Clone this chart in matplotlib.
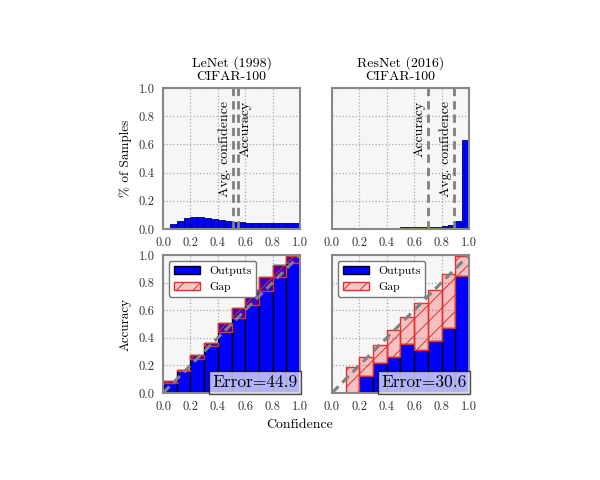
import matplotlib
matplotlib.use("Agg")
import matplotlib.pyplot as plt
import numpy as np

plt.rcParams['font.family'] = ['cmr10', 'DejaVu Serif']
plt.rcParams['axes.formatter.use_mathtext'] = True
plt.rcParams['hatch.linewidth'] = 0.7

# ---- data ----
models = ['LeNet (1998)\nCIFAR-100', 'ResNet (2016)\nCIFAR-100']
errors = [44.9, 30.6]
avg_conf = [0.51, 0.888]
accuracy = [0.545, 0.70]

# % of samples, 20 bins of width 0.05
hist_lenet = [0.003, 0.036, 0.059, 0.075, 0.083, 0.082, 0.075, 0.068, 0.064, 0.057,
              0.052, 0.047, 0.044, 0.042, 0.040, 0.040, 0.041, 0.043, 0.044, 0.045]
hist_resnet = [0.0, 0.0, 0.0, 0.0, 0.0, 0.001, 0.003, 0.005, 0.008, 0.010,
               0.012, 0.013, 0.014, 0.015, 0.016, 0.017, 0.019, 0.030, 0.060, 0.633]

# reliability diagram, 10 bins of width 0.1
acc_lenet = [0.09, 0.17, 0.273, 0.365, 0.505, 0.614, 0.746, 0.843, 0.928, 0.993]
conf_lenet = [0.07, 0.16, 0.244, 0.34, 0.444, 0.54, 0.638, 0.741, 0.843, 0.944]
acc_resnet = [0.0, 0.0, 0.123, 0.22, 0.26, 0.355, 0.31, 0.377, 0.47, 0.85]
conf_resnet = [0.0, 0.19, 0.26, 0.35, 0.456, 0.55, 0.65, 0.746, 0.86, 0.99]

hists = [hist_lenet, hist_resnet]
accs = [acc_lenet, acc_resnet]
confs = [conf_lenet, conf_resnet]
ticks = [0.0, 0.2, 0.4, 0.6, 0.8, 1.0]


def style(ax, show_y):
    ax.set_facecolor('#f6f6f6')
    ax.set_xlim(0, 1)
    ax.set_ylim(0, 1)
    ax.set_xticks(ticks)
    ax.set_yticks(ticks)
    ax.set_xticklabels([f'{t:.1f}' for t in ticks])
    if show_y:
        ax.set_yticklabels([f'{t:.1f}' for t in ticks])
    else:
        ax.set_yticklabels([])
    ax.tick_params(length=0, labelsize=9, colors='#333333', pad=6)
    ax.grid(True, ls=':', color='#aaaaaa', lw=0.9)
    ax.set_axisbelow(True)
    for s in ax.spines.values():
        s.set_color('#888888')
        s.set_linewidth(1.5)


fig = plt.figure(figsize=(6, 4.8), dpi=100)
lefts = [0.2717, 0.5533]
w = 0.2283

for i in range(2):
    # top: confidence histogram
    ax = fig.add_axes([lefts[i], 0.5229, w, 0.2938])
    style(ax, i == 0)
    edges = np.linspace(0, 1, len(hists[i]) + 1)
    ax.bar(edges[:-1], hists[i], width=0.05, align='edge', color='#0000ff',
           edgecolor='#000066', lw=0.6)
    ax.axvline(avg_conf[i], ls='--', color='#808080', lw=2, dashes=(3, 1.8))
    ax.axvline(accuracy[i], ls='--', color='#808080', lw=2, dashes=(3, 1.8))
    ax.text(avg_conf[i] - 0.015, 0.91, 'Avg. confidence', rotation=90,
            ha='right', va='top', fontsize=10)
    if i == 0:
        ax.text(accuracy[i] + 0.01, 0.91, 'Accuracy', rotation=90,
                ha='left', va='top', fontsize=10)
    else:
        ax.text(accuracy[i] - 0.015, 0.91, 'Accuracy', rotation=90,
                ha='right', va='top', fontsize=10)
    ax.set_title(models[i], fontsize=10, linespacing=1.05, pad=6)
    if i == 0:
        ax.set_ylabel('% of Samples', fontsize=9.5, labelpad=5)

    # bottom: reliability diagram
    ax = fig.add_axes([lefts[i], 0.1813, w, 0.2875])
    style(ax, i == 0)
    bins = np.linspace(0, 1, len(accs[i]) + 1)[:-1]
    a = np.array(accs[i])
    c = np.array(confs[i])
    ax.bar(bins, a, width=0.1, align='edge', color='#0000ff',
           edgecolor='black', lw=1, label='Outputs')
    ax.bar(bins, c - a, bottom=a, width=0.1, align='edge',
           color=(1, 0, 0, 0.22), edgecolor='#e03030', lw=1, hatch='//',
           label='Gap')
    ax.plot([0, 1], [0, 1], ls='--', color='#808080', lw=2.2, dashes=(3, 1.8))
    ax.legend(loc='upper left', fontsize=8.5, framealpha=1, edgecolor='#777777',
              borderpad=0.4, handlelength=2.2)
    ax.text(0.985, 0.02, f'Error={errors[i]}', transform=ax.transAxes,
            ha='right', va='bottom', fontsize=12.5,
            bbox=dict(facecolor='white', alpha=0.7, edgecolor='black',
                      boxstyle='square,pad=0.2'))
    if i == 0:
        ax.set_ylabel('Accuracy', fontsize=9.5, labelpad=5)

fig.text(0.5, 0.115, 'Confidence', ha='center', va='center', fontsize=10)

fig.savefig('out.png', dpi=100)
